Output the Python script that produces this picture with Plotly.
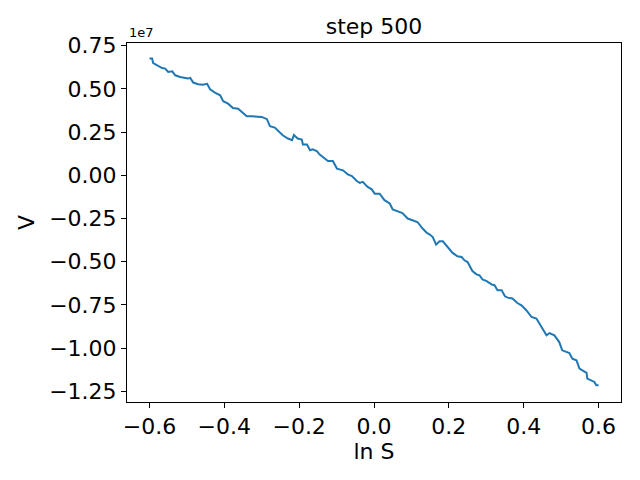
import plotly.graph_objects as go

# ln S values
ln_s = [-0.600, -0.593, -0.590, -0.577, -0.566, -0.558, -0.550, -0.539, -0.531, -0.518,
        -0.497, -0.491, -0.483, -0.470, -0.457, -0.446, -0.438, -0.425, -0.411, -0.403,
        -0.390, -0.377, -0.363, -0.353, -0.340, -0.326, -0.300, -0.286, -0.278, -0.265,
        -0.257, -0.244, -0.230, -0.219, -0.214, -0.204, -0.193, -0.190, -0.179, -0.171,
        -0.164, -0.153, -0.145, -0.131, -0.123, -0.110, -0.099, -0.083, -0.070, -0.059,
        -0.046, -0.038, -0.030, -0.017, -0.006, 0.002, 0.015, 0.028, 0.042, 0.050,
        0.063, 0.076, 0.090, 0.103, 0.116, 0.130, 0.140, 0.149, 0.157, 0.166,
        0.175, 0.184, 0.196, 0.210, 0.223, 0.234, 0.242, 0.250, 0.263, 0.274,
        0.282, 0.290, 0.301, 0.314, 0.322, 0.330, 0.341, 0.350, 0.357, 0.370,
        0.383, 0.394, 0.407, 0.421, 0.434, 0.442, 0.450, 0.461, 0.469, 0.482,
        0.495, 0.503, 0.514, 0.522, 0.530, 0.541, 0.549, 0.557, 0.568, 0.570,
        0.581, 0.589, 0.594, 0.600]

# V values (units of 1e6)
v_millions = [6.76, 6.76, 6.50, 6.33, 6.21, 6.18, 5.98, 6.02, 5.79, 5.69,
              5.60, 5.64, 5.37, 5.27, 5.25, 5.30, 4.98, 4.79, 4.63, 4.29,
              4.15, 3.90, 3.86, 3.67, 3.42, 3.42, 3.38, 3.25, 2.84, 2.76,
              2.57, 2.32, 2.13, 2.03, 2.33, 2.13, 2.07, 1.78, 1.78, 1.45,
              1.51, 1.41, 1.20, 0.93, 0.83, 0.83, 0.39, 0.29, 0.06, -0.04,
              -0.33, -0.44, -0.38, -0.67, -0.81, -1.06, -1.06, -1.44, -1.63, -1.98,
              -2.08, -2.18, -2.50, -2.60, -2.70, -3.08, -3.31, -3.43, -3.57, -4.01,
              -3.82, -3.82, -4.11, -4.49, -4.69, -4.73, -4.92, -5.02, -5.54, -5.73,
              -5.79, -6.03, -6.12, -6.31, -6.36, -6.65, -6.65, -7.00, -7.08, -7.13,
              -7.39, -7.52, -7.81, -8.20, -8.29, -8.62, -8.87, -9.26, -9.13, -9.26,
              -9.65, -10.13, -10.23, -10.28, -10.61, -10.71, -11.19, -11.28, -11.44, -11.77,
              -11.86, -11.96, -12.15, -12.15]

x_tick_vals = [-0.6, -0.4, -0.2, 0.0, 0.2, 0.4, 0.6]
x_tick_text = ["\u22120.6", "\u22120.4", "\u22120.2", "0.0", "0.2", "0.4", "0.6"]
y_tick_vals_1e7 = [0.75, 0.50, 0.25, 0.00, -0.25, -0.50, -0.75, -1.00, -1.25]
y_tick_text = ["0.75", "0.50", "0.25", "0.00", "\u22120.25", "\u22120.50", "\u22120.75", "\u22121.00", "\u22121.25"]

v = [m * 1e6 for m in v_millions]
y_tick_vals = [t * 1e7 for t in y_tick_vals_1e7]

FONT = "DejaVu Sans"

fig = go.Figure()
fig.add_trace(go.Scatter(x=ln_s, y=v, mode="lines",
                         line=dict(color="#1f77b4", width=2), showlegend=False))

axis_common = dict(showline=True, mirror=True, linecolor="black", linewidth=1.1,
                   ticks="outside", ticklen=5, tickwidth=1.1, tickcolor="black",
                   showgrid=False, zeroline=False, automargin=False,
                   tickfont=dict(family=FONT, size=22, color="black"))

fig.update_layout(
    width=640, height=480,
    margin=dict(l=127, r=19, t=43, b=78),
    paper_bgcolor="white", plot_bgcolor="white",
    title=dict(text="step 500", x=0.5, xref="paper", y=1 - 26 / 480, yanchor="middle",
               xanchor="center", font=dict(family=FONT, size=22, color="black")),
    xaxis=dict(range=[-0.66, 0.66], tickvals=x_tick_vals, ticktext=x_tick_text,
               title=dict(text="ln S", font=dict(family=FONT, size=22, color="black"), standoff=5),
               **axis_common),
    yaxis=dict(range=[-13.12e6, 7.66e6], tickvals=y_tick_vals, ticktext=y_tick_text,
               title=dict(text="V", font=dict(family=FONT, size=22, color="black"), standoff=8),
               **axis_common),
    annotations=[dict(text="1e7", xref="paper", yref="paper", x=0, y=1, xanchor="left",
                      yanchor="bottom", yshift=1, showarrow=False,
                      font=dict(family=FONT, size=13, color="black"))],
)

fig.write_html("out.html", config={"displayModeBar": False},
               post_script="document.body.style.margin='0';document.body.style.overflow='hidden';")
